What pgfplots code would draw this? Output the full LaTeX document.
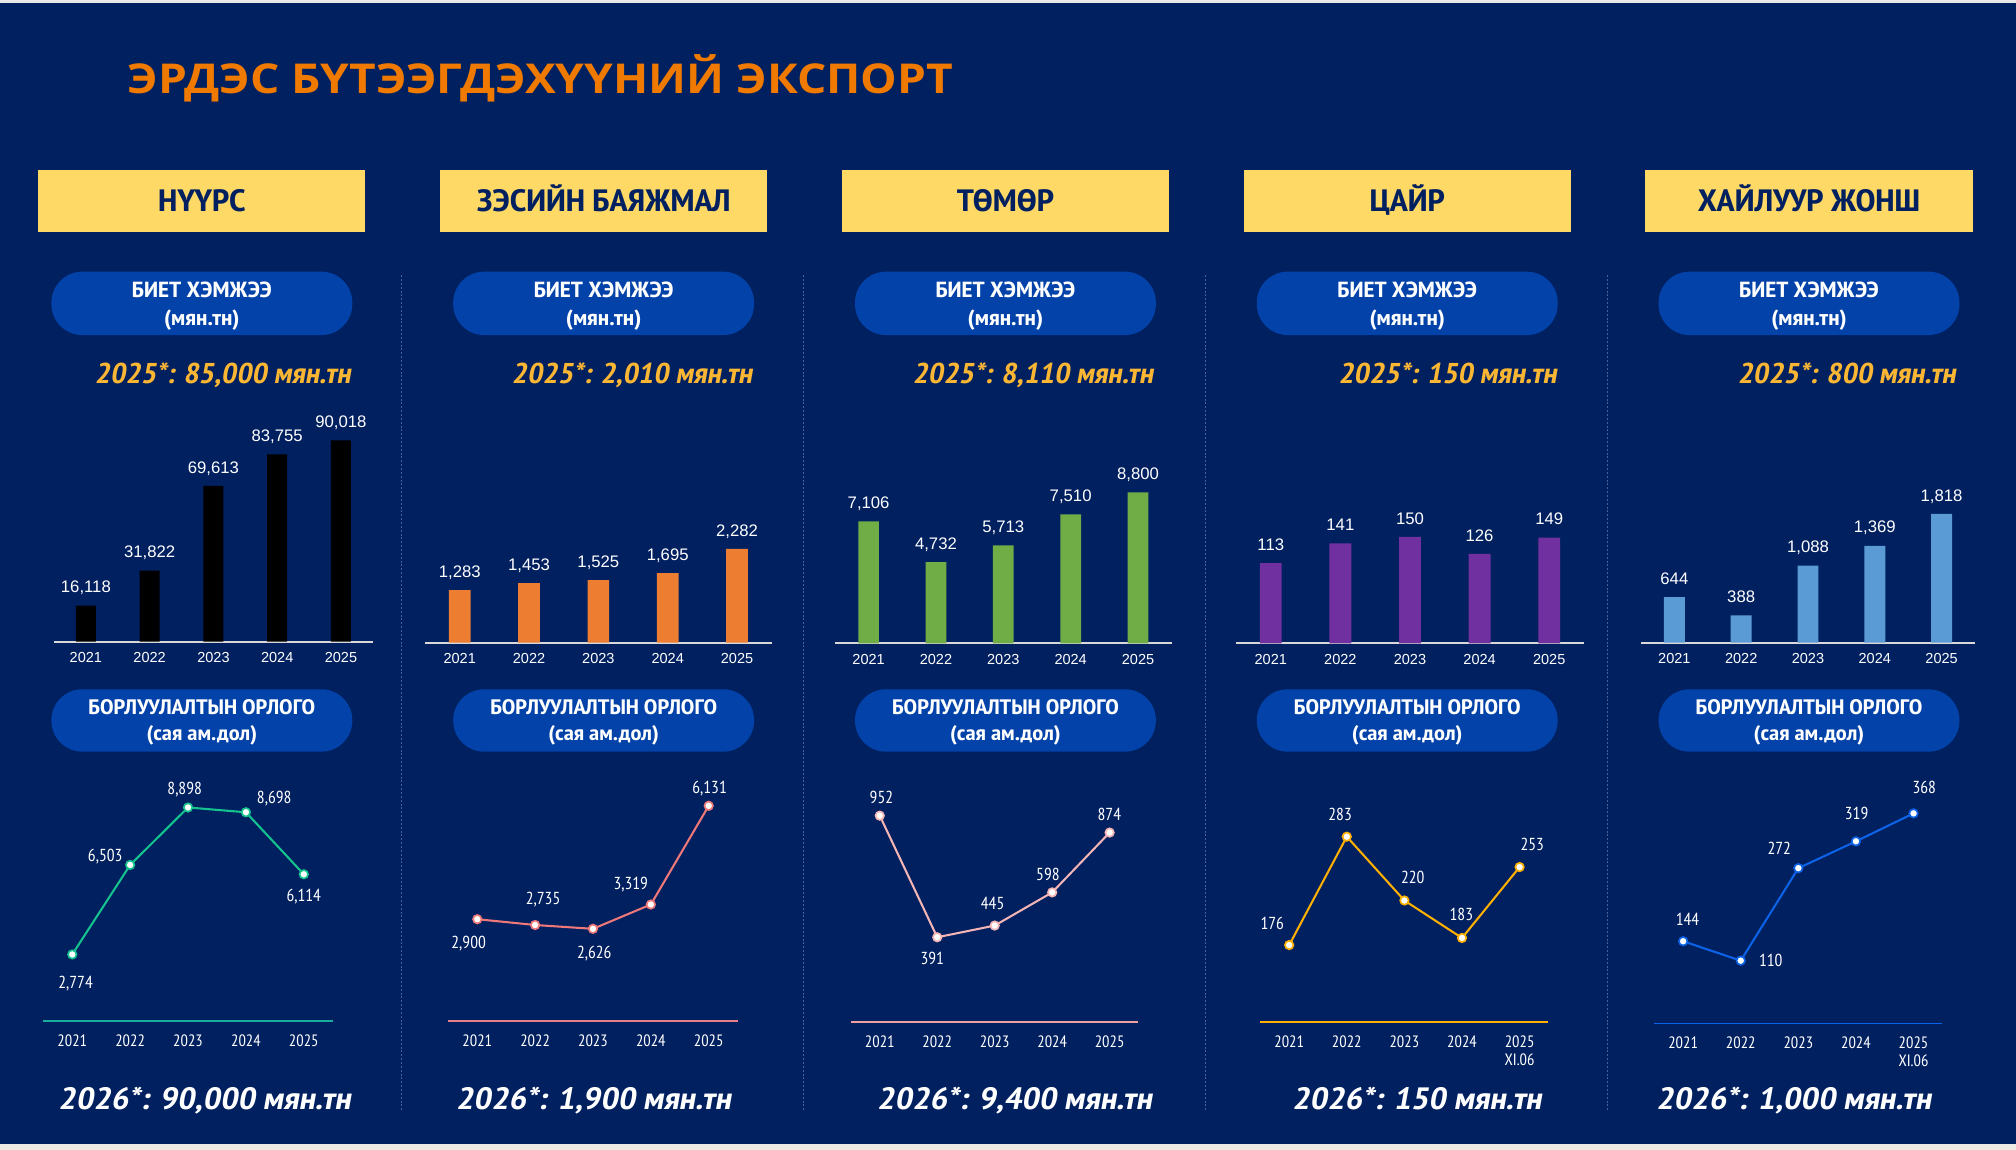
\documentclass[border=0pt]{standalone}
\usepackage{fontspec}
\usepackage{pgfplots}
\pgfplotsset{compat=1.18}
\setmainfont{Liberation Sans}
\newfontfamily\arial{Liberation Sans}
\newfontfamily\narrow{PT Sans Narrow}
\newfontfamily\narrowwide[FakeStretch=1.17]{PT Sans Narrow}
\newfontfamily\narrowitgold[FakeSlant=0.18, FakeStretch=1.12]{PT Sans Narrow}
\newfontfamily\narrowitbot[FakeSlant=0.18, FakeStretch=1.19]{PT Sans Narrow}
\newfontfamily\titlefont[FakeStretch=1.12]{Open Sans}

\definecolor{bg}{HTML}{002060}
\definecolor{pill}{HTML}{0343A9}
\definecolor{boxy}{HTML}{FFD966}
\definecolor{gold}{HTML}{FBB634}
\definecolor{orangetitle}{HTML}{F07A00}
\definecolor{axisgray}{HTML}{D9D9D9}
\definecolor{sep}{HTML}{4A5F95}
\definecolor{strip}{HTML}{EDE9E4}
\definecolor{barA}{HTML}{000000}
\definecolor{barB}{HTML}{ED7D31}
\definecolor{barC}{HTML}{70AD47}
\definecolor{barD}{HTML}{7030A0}
\definecolor{barE}{HTML}{5B9BD5}
\definecolor{lnA}{HTML}{14C38E}
\definecolor{lnAbase}{HTML}{1AAE9F}
\definecolor{lnB}{HTML}{F07878}
\definecolor{lnBbase}{HTML}{E8808C}
\definecolor{lnC}{HTML}{F5B5B5}
\definecolor{lnCbase}{HTML}{F0A0A0}
\definecolor{lnD}{HTML}{FFB000}
\definecolor{lnE}{HTML}{0D63E8}

\pgfplotsset{
  base/.style={
    scale only axis, anchor=south west, clip=false, enlargelimits=false,
    height=180pt, xmin=-0.5, xmax=4.5, xtick={0,1,2,3,4},
    axis x line*=bottom, axis y line=none, major tick length=0pt,
    xtick style={draw=none},
    /pgf/number format/fixed, /pgf/number format/precision=0,
    /pgf/number format/1000 sep={,}, /pgf/number format/assume math mode=true,
  },
  barchart/.style={
    base, ybar, ymin=0,
    xticklabels={2021,2022,2023,2024,2025},
    x axis line style={draw=axisgray, line width=1.6pt, -},
    xticklabel style={font=\arial\fontsize{11.3}{13}\selectfont, text=white, anchor=center, yshift=-12.5pt, inner sep=0pt},
    nodes near coords,
    every node near coord/.append style={font=\arial\fontsize{13}{15}\selectfont, text=white, anchor=base, yshift=10pt, inner sep=0pt},
  },
  linechart/.style={
    base,
    xticklabel style={font=\narrow\fontsize{12.8}{14}\selectfont, text=white, anchor=north, yshift=-10.4pt, inner sep=0pt, align=center},
    x axis line style={draw=#1, line width=1pt, -},
  },
  lineser/.style={
    color=#1, line width=1.6pt, mark=*, mark size=3.3pt,
    mark options={fill=white, draw=#1, line width=1.3pt},
    nodes near coords,
    visualization depends on={value \thisrow{dx} \as \dx},
    visualization depends on={value \thisrow{dy} \as \dy},
    every node near coord/.append style={font=\narrow\fontsize{13.5}{15}\selectfont, text=white, anchor=center, inner sep=0pt, text depth=0pt, xshift=\dx pt, yshift=\dy pt},
  },
}

\begin{document}
\begin{tikzpicture}[x=1pt,y=-1pt]
\fill[bg] (0,0) rectangle (1568,894.4);
\useasboundingbox (0,0) rectangle (1568,894.4);

% title
\node[anchor=base west, inner sep=0pt, text=orangetitle, font=\titlefont\bfseries\fontsize{32}{36}\selectfont] at (99,72.6) {ЭРДЭС БҮТЭЭГДЭХҮҮНИЙ ЭКСПОРТ};

% column headers and pills
\foreach \cx/\name in {157/НҮҮРС, 469.5/ЗЭСИЙН БАЯЖМАЛ, 782/ТӨМӨР, 1094.5/ЦАЙР, 1407/ХАЙЛУУР ЖОНШ} {
  \fill[boxy] (\cx-127.2,132.2) rectangle (\cx+127.2,180.2);
  \node[anchor=base, inner sep=0pt, text=bg, font=\narrowwide\bfseries\fontsize{24}{26}\selectfont] at (\cx,164.6) {\name};
  \fill[pill, rounded corners=24pt] (\cx-117,211.3) rectangle (\cx+117,260.6);
  \node[anchor=base, inner sep=0pt, text=white, font=\narrowwide\bfseries\fontsize{17}{19}\selectfont] at (\cx,231.5) {БИЕТ ХЭМЖЭЭ};
  \node[anchor=base, inner sep=0pt, text=white, font=\narrowwide\bfseries\fontsize{17}{19}\selectfont] at (\cx,252.8) {(мян.тн)};
  \fill[pill, rounded corners=24pt] (\cx-117,536.1) rectangle (\cx+117,584.6);
  \node[anchor=base, inner sep=0pt, text=white, font=\narrowwide\bfseries\fontsize{16.3}{18}\selectfont] at (\cx,556.1) {БОРЛУУЛАЛТЫН ОРЛОГО};
  \node[anchor=base, inner sep=0pt, text=white, font=\narrowwide\bfseries\fontsize{16.3}{18}\selectfont] at (\cx,575.6) {(сая ам.дол)};
}

% separators
\foreach \sx in {312.4, 624.8, 937.7, 1250.2}
  \draw[sep, dash pattern=on 1.5pt off 1.5pt, line width=0.6pt] (\sx,214) -- (\sx,864.6);

% targets
\tikzset{goldtxt/.style={anchor=base east, inner sep=0pt, text=gold, font=\narrowitgold\bfseries\fontsize{22.3}{24}\selectfont},
         bottxt/.style={anchor=base, inner sep=0pt, text=white, font=\narrowitbot\bfseries\fontsize{24}{26}\selectfont}}
\node[goldtxt] at (272.8,298.1) {2025*: 85,000 мян.тн};
\node[goldtxt] at (585.2,298.1) {2025*: 2,010 мян.тн};
\node[goldtxt] at (897,298.1) {2025*: 8,110 мян.тн};
\node[goldtxt] at (1210.8,298.1) {2025*: 150 мян.тн};
\node[goldtxt] at (1521.3,298.1) {2025*: 800 мян.тн};
\node[bottxt] at (159,863.3) {2026*: 90,000 мян.тн};
\node[bottxt] at (461.5,863.3) {2026*: 1,900 мян.тн};
\node[bottxt] at (789,863.3) {2026*: 9,400 мян.тн};
\node[bottxt] at (1101.9,863.3) {2026*: 150 мян.тн};
\node[bottxt] at (1395,863.3) {2026*: 1,000 мян.тн};

% ---- bar charts: physical volume
\begin{axis}[barchart, at={(42pt,-499.1pt)}, width=248pt, ymax=103448, bar width=15.6pt]
\addplot[fill=barA, draw=none] coordinates {(0,16118) (1,31822) (2,69613) (3,83755) (4,90018)};
\end{axis}
\begin{axis}[barchart, at={(330.6pt,-499.9pt)}, width=269.6pt, ymax=5634, bar width=16.9pt]
\addplot[fill=barB, draw=none] coordinates {(0,1283) (1,1453) (2,1525) (3,1695) (4,2282)};
\end{axis}
\begin{axis}[barchart, at={(649.4pt,-500.4pt)}, width=261.9pt, ymax=13483, bar width=16.1pt]
\addplot[fill=barC, draw=none] coordinates {(0,7106) (1,4732) (2,5713) (3,7510) (4,8800)};
\end{axis}
\begin{axis}[barchart, at={(961.3pt,-500.4pt)}, width=270.7pt, ymax=326.1, bar width=17pt]
\addplot[fill=barD, draw=none] coordinates {(0,113) (1,141) (2,150) (3,126) (4,149)};
\end{axis}
\begin{axis}[barchart, at={(1276.3pt,-499.9pt)}, width=259.8pt, ymax=3266.8, bar width=16.3pt]
\addplot[fill=barE, draw=none] coordinates {(0,644) (1,388) (2,1088) (3,1369) (4,1818)};
\end{axis}

% ---- line charts: sales revenue
\begin{axis}[linechart=lnAbase, at={(33.7pt,-794.1pt)}, width=225.1pt, ymin=0, ymax=9643.7,
  xticklabels={2021,2022,2023,2024,2025}]
\addplot[lineser=lnA] table {
x y dx dy
0 2774 2.6 -21.5
1 6503 -19.4 7.5
2 8898 -2.6 15
3 8698 22 11.3
4 6114 0 -16.4
};
\end{axis}
\begin{axis}[linechart=lnBbase, at={(348.7pt,-794.1pt)}, width=225pt, ymin=0, ymax=6593.4,
  xticklabels={2021,2022,2023,2024,2025}]
\addplot[lineser=lnB] table {
x y dx dy
0 2900 -6.7 -18.1
1 2735 6.2 20.7
2 2626 1 -18.4
3 3319 -15.6 16.3
4 6131 0.7 14.5
};
\end{axis}
\begin{axis}[linechart=lnCbase, at={(661.9pt,-794.9pt)}, width=223.5pt, ymin=0, ymax=1067.6,
  xticklabels={2021,2022,2023,2024,2025}]
\addplot[lineser=lnC] table {
x y dx dy
0 952 1.3 14.6
1 391 -3.9 -16.6
2 445 -1.6 17.4
3 598 -3.3 14.3
4 874 -0.2 14.2
};
\end{axis}
\begin{axis}[linechart=lnD, at={(980.3pt,-794.9pt)}, width=224pt, ymin=100, ymax=328.5,
  xticklabels={2021,2022,2023,2024,{2025\\XI.06}}]
\addplot[lineser=lnD] table {
x y dx dy
0 176 -13.2 16.9
1 283 -5.2 17.6
2 220 6.5 18.1
3 183 -0.5 18.3
4 253 9.9 17.9
};
\end{axis}
\begin{axis}[linechart=lnE, at={(1286.7pt,-796pt)}, width=224pt, ymin=0, ymax=405.4,
  xticklabels={2021,2022,2023,2024,{2025\\XI.06}}]
\addplot[lineser=lnE] table {
x y dx dy
0 144 3.4 17.3
1 110 23.4 0.6
2 272 -14.8 15.6
3 319 0.5 21.5
4 368 8.3 20.3
};
\end{axis}

% frame strips
\fill[strip] (0,889.8) rectangle (1568,894.4);
\fill[axisgray!60!white] (0,0) rectangle (1568,2.4);
\end{tikzpicture}
\end{document}
